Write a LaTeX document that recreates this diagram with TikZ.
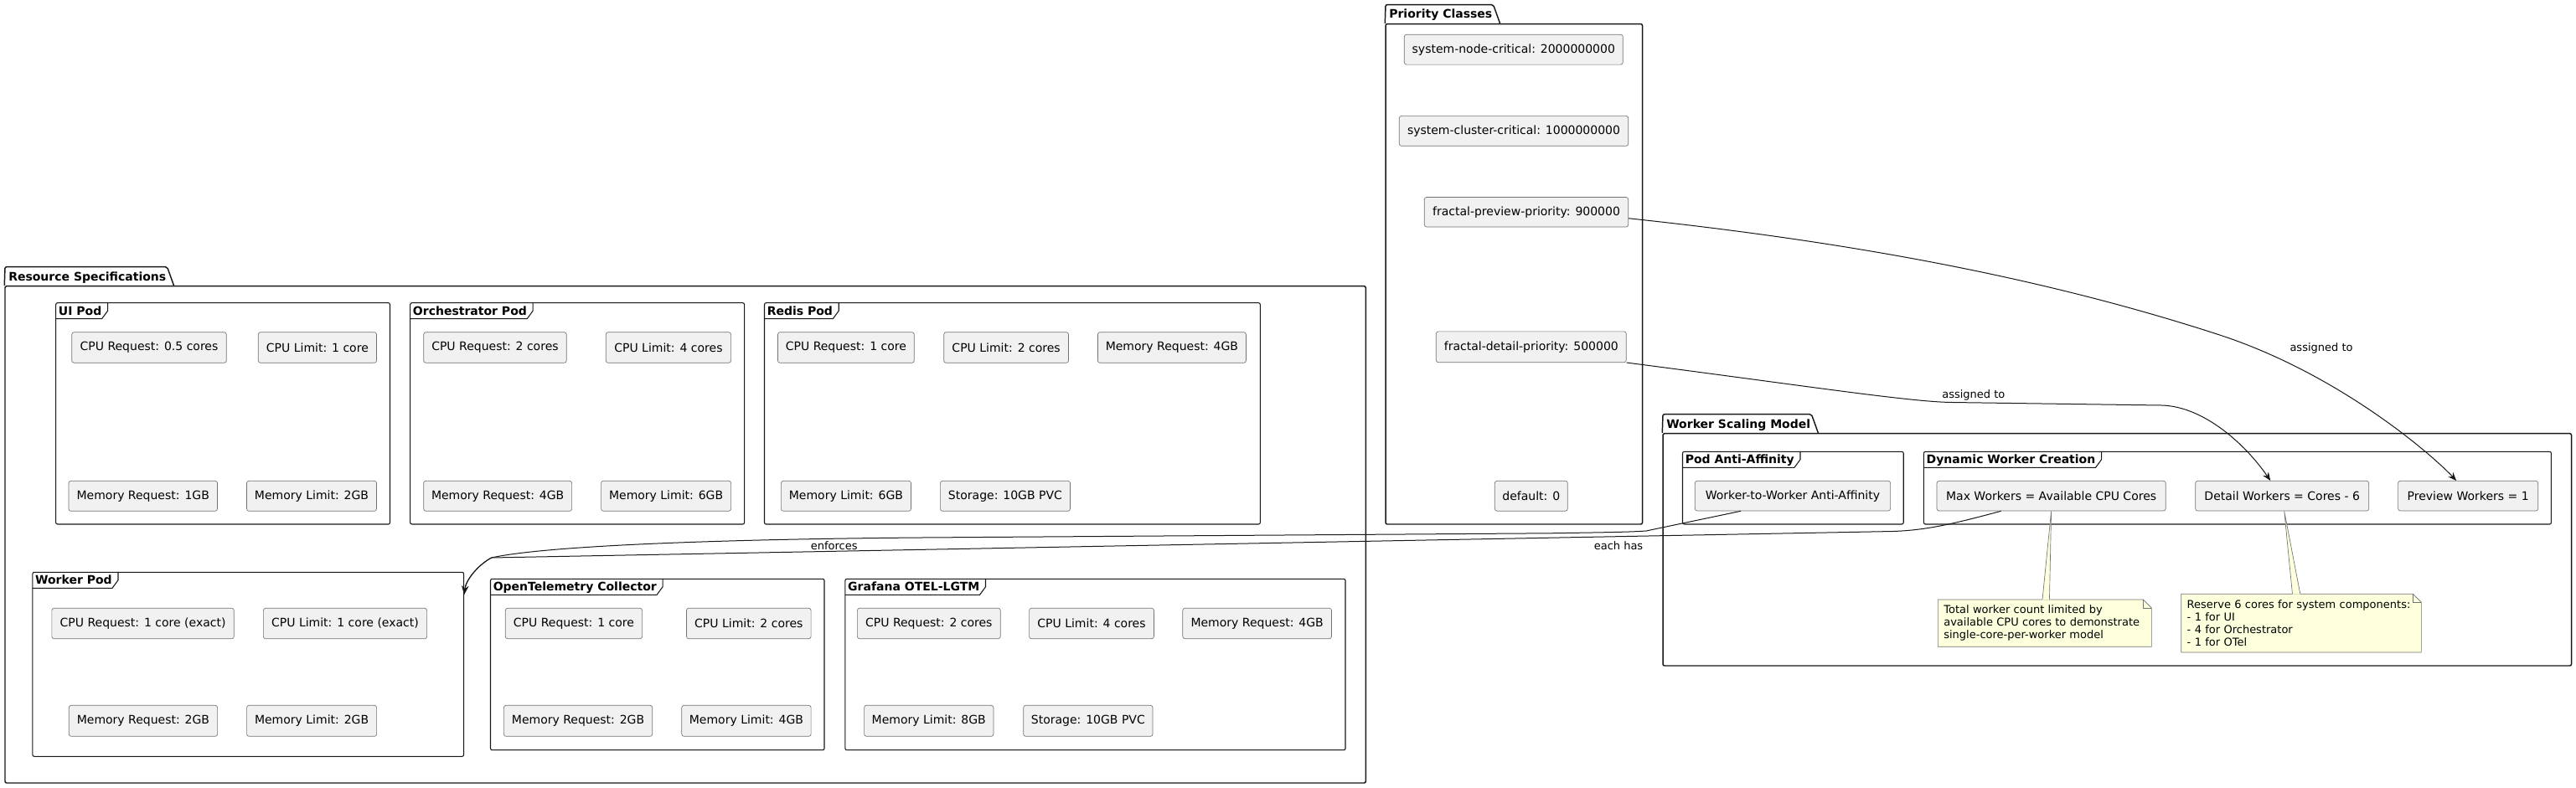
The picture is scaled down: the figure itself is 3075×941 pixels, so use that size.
\documentclass[tikz,border=0pt]{standalone}
\usepackage{fontspec}
\setmainfont{DejaVu Sans}
\usetikzlibrary{calc,arrows.meta}
\definecolor{boxfill}{HTML}{F1F1F1}
\definecolor{notefill}{HTML}{FEFFDD}
\definecolor{ink}{HTML}{181818}
\tikzset{
  box/.style={draw=black!55, line width=0.5pt, fill=boxfill, rounded corners=2pt, inner sep=0pt,
    font=\fontsize{10.5pt}{12.6pt}\selectfont, text=black},
  framebox/.style={draw=ink, line width=0.8pt, rounded corners=1.5pt, inner sep=0pt},
  frameline/.style={draw=ink, line width=0.8pt},
  ftitle/.style={inner sep=0pt, font=\fontsize{10.5pt}{12.6pt}\selectfont\bfseries},
  pkgbox/.style={draw=ink, line width=1.1pt, rounded corners=1.5pt, inner sep=0pt},
  pkgline/.style={draw=ink, line width=1.1pt, rounded corners=1.5pt},
  conn/.style={draw=ink, line width=0.75pt, -{Stealth[length=7.5pt, width=6pt, inset=2.5pt]}},
  elabel/.style={inner sep=0pt, font=\fontsize{9.75pt}{11.7pt}\selectfont},
  notebox/.style={draw=black!55, line width=0.5pt, fill=notefill},
  notetext/.style={inner xsep=5.25pt, inner ysep=0pt, align=left, font=\fontsize{9.75pt}{11.4pt}\selectfont},
}
\newcommand\mkbox[6]{\node[box, minimum width={(#4-#2)*0.75pt}, minimum height={(#5-#3)*0.75pt}] (#1) at ({(#2+#4)/2},{(#3+#5)/2}) {#6};}
\newcommand\mkfrm[6]{%
  \node[framebox, minimum width={(#4-#2)*0.75pt}, minimum height={(#5-#3)*0.75pt}] (#1) at ({(#2+#4)/2},{(#3+#5)/2}) {};
  \node[ftitle, anchor=base west] (#1t) at ({#2+3},{#3+14.3}) {#6};
  \coordinate (#1tb) at (#2,{#3+19});
  \draw[frameline] (#1tb) -- (#1t.east |- #1tb) -- ($(#1t.east |- #1.north)+(7,10)$) -- ($(#1t.east |- #1.north)+(7,0)$);
}
\newcommand\mkpkg[6]{%
  \node[pkgbox, minimum width={(#4-#2)*0.75pt}, minimum height={(#5-#3)*0.75pt}] (#1) at ({(#2+#4)/2},{(#3+#5)/2}) {};
  \node[ftitle, anchor=base west] (#1t) at ({#2+4},{#3-6.7}) {#6};
  \coordinate (#1tt) at (#2,{#3-23});
  \draw[pkgline] (#1.north west) -- (#1tt) -- ($(#1t.east |- #1tt)+(1,0)$) -- ($(#1t.east |- #1.north)+(9,0)$);
}
\newcommand\mknote[6]{%
  \draw[notebox] (#2,#3) -- ({#4-10},#3) -- (#4,{#3+10}) -- (#4,#5) -- (#2,#5) -- cycle;
  \draw[notebox, fill=none] ({#4-10},#3) -- ({#4-10},{#3+10}) -- (#4,{#3+10});
  \pgfmathsetmacro\notetw{(#4-#2-14)*0.75}
  \node[notetext, text width=\notetw pt, minimum height={(#5-#3)*0.75pt}] (#1) at ({(#2+#4)/2},{(#3+#5)/2}) {#6};
}
\begin{document}
\begin{tikzpicture}[x=0.75pt, y=-0.75pt]
\fill[white] (0,0) rectangle (3075,941);
\useasboundingbox (0,0) rectangle (3075,941);

% packages
\mkpkg{rs}{6}{341.7}{1630.3}{935}{Resource Specifications}
\mkpkg{pc}{1654}{28.6}{1960.5}{626}{Priority Classes}
\mkpkg{ws}{1985}{517.7}{3069.5}{795}{Worker Scaling Model}

% frames
\mkfrm{ui}{66.7}{361.7}{465.5}{626}{UI Pod}
\mkfrm{or}{489.7}{361.7}{888.6}{626}{Orchestrator Pod}
\mkfrm{rd}{912.5}{361.7}{1504.3}{626}{Redis Pod}
\mkfrm{wp}{38.9}{683.3}{553.6}{903.3}{Worker Pod}
\mkfrm{ot}{585.5}{691.3}{984}{895.7}{OpenTelemetry Collector}
\mkfrm{gf}{1008.9}{691.3}{1606}{895.7}{Grafana OTEL-LGTM}
\mkfrm{pa}{2008.5}{539.3}{2272.2}{626}{Pod Anti-Affinity}
\mkfrm{dw}{2296.4}{539.3}{3045.4}{626}{Dynamic Worker Creation}

% UI pod
\mkbox{uic}{85.7}{396.7}{270.3}{433.3}{CPU Request: 0.5 cores}
\mkbox{uil}{308.3}{396.7}{449.5}{433.3}{CPU Limit: 1 core}
\mkbox{uimr}{82}{574.3}{259.5}{610.3}{Memory Request: 1GB}
\mkbox{uiml}{294.5}{574.3}{449.5}{610.3}{Memory Limit: 2GB}
% Orchestrator
\mkbox{orc}{505.7}{396.7}{676.2}{433.3}{CPU Request: 2 cores}
\mkbox{orl}{723.3}{396.7}{872.6}{433.3}{CPU Limit: 4 cores}
\mkbox{ormr}{505.7}{574.3}{682.6}{610.3}{Memory Request: 4GB}
\mkbox{orml}{717.6}{574.3}{872.6}{610.3}{Memory Limit: 6GB}
% Redis
\mkbox{rdc}{928.5}{396.7}{1091.3}{433.3}{CPU Request: 1 core}
\mkbox{rdl}{1126.7}{396.7}{1275.5}{433.3}{CPU Limit: 2 cores}
\mkbox{rdmr}{1310.4}{396.7}{1487.4}{433.3}{Memory Request: 4GB}
\mkbox{rdml}{932.4}{574.3}{1087.5}{610.3}{Memory Limit: 6GB}
\mkbox{rds}{1122.4}{574.3}{1277.5}{610.3}{Storage: 10GB PVC}
% Worker
\mkbox{wpc}{61.9}{726.3}{279.3}{762.7}{CPU Request: 1 core (exact)}
\mkbox{wpl}{314.4}{726.3}{509.6}{762.7}{CPU Limit: 1 core (exact)}
\mkbox{wpmr}{82.3}{842.3}{259.6}{879.3}{Memory Request: 2GB}
\mkbox{wpml}{294.6}{842.3}{449.6}{879.3}{Memory Limit: 2GB}
% OTel
\mkbox{otc}{603.3}{726.3}{766.6}{762.7}{CPU Request: 1 core}
\mkbox{otl}{819.5}{726.3}{968.1}{762.7}{CPU Limit: 2 cores}
\mkbox{otmr}{601.4}{842.3}{778.7}{879.3}{Memory Request: 2GB}
\mkbox{otml}{813.8}{842.3}{968.1}{879.3}{Memory Limit: 4GB}
% Grafana
\mkbox{gfc}{1023.4}{726.3}{1194.2}{762.7}{CPU Request: 2 cores}
\mkbox{gfl}{1228.6}{726.3}{1377.4}{762.7}{CPU Limit: 4 cores}
\mkbox{gfmr}{1411.8}{726.3}{1589.5}{762.7}{Memory Request: 4GB}
\mkbox{gfml}{1031.6}{842.3}{1185.9}{879.3}{Memory Limit: 8GB}
\mkbox{gfs}{1221.7}{842.3}{1376}{879.3}{Storage: 10GB PVC}
% Priority classes
\mkbox{snc}{1676.3}{41.2}{1937.3}{77.1}{system-node-critical: 2000000000}
\mkbox{scc}{1670.3}{138.4}{1943.7}{174.3}{system-cluster-critical: 1000000000}
\mkbox{pp}{1700.3}{235.5}{1943.7}{271}{fractal-preview-priority: 900000}
\mkbox{pd}{1714.3}{395.9}{1941.3}{432.7}{fractal-detail-priority: 500000}
\mkbox{dflt}{1784.3}{574.3}{1871.3}{610.2}{default: 0}
% Worker scaling model
\mkbox{aff}{2023.3}{574.3}{2256.6}{610}{Worker-to-Worker Anti-Affinity}
\mkbox{mx}{2312}{574.3}{2585.2}{610}{Max Workers = Available CPU Cores}
\mkbox{dtw}{2620.7}{574.3}{2827.7}{610}{Detail Workers = Cores - 6}
\mkbox{pw}{2862.6}{574.3}{3029.7}{610}{Preview Workers = 1}

% notes
\mknote{n1}{2313.3}{716}{2568.3}{772.3}{Total worker count limited by\\available CPU cores to demonstrate\\single-core-per-worker model}
\mknote{n2}{2603.7}{709.3}{2890.3}{779}{Reserve 6 cores for system components:\\- 1 for UI\\- 4 for Orchestrator\\- 1 for OTel}
\fill[notefill] (mx.south) -- ($(n1.north west)+(125,0.6)$) -- ($(n1.north west)+(133.4,0.6)$) -- cycle;
\draw[draw=black!55, line width=0.5pt] ($(n1.north west)+(125,0)$) -- (mx.south) -- ($(n1.north west)+(133.4,0)$);
\fill[notefill] ($(dtw.south)+(2.5,0)$) -- ($(n2.north west)+(133,0.6)$) -- ($(n2.north west)+(142.3,0.6)$) -- cycle;
\draw[draw=black!55, line width=0.5pt] ($(n2.north west)+(133,0)$) -- ($(dtw.south)+(2.5,0)$) -- ($(n2.north west)+(142.3,0)$);

% connectors
\coordinate (j) at (586.7,666);
\draw[conn] ($(pp.east)+(0,7.5)$) .. controls (2180,286) and (2419.6,325) .. (2649.6,400)
  .. controls (2790,446) and (2900,540) .. ($(pw.north)+(-14,0)$);
\draw[conn] (pd.south east) .. controls (2150,460) and (2280,480) .. (2330,480.5) -- (2580,484)
  .. controls (2630,485) and (2680,530) .. ($(dtw.north)+(-14,0)$);
\draw[conn] ($(aff.south)+(-62,0)$) -- (1965,634) .. controls (1945,635.5) and (1900,636) .. (1850,636.8)
  -- (1100,642) .. controls (850,644) and (650,652) .. (j)
  .. controls (570,675) and (556,693) .. ($(wp.north east)+(0,27)$);
\draw[conn] ($(mx.south)+(-60,0)$) .. controls (2330,626) and (2300,633) .. (2260,634.5) -- (j)
  .. controls (570,675) and (556,693) .. ($(wp.north east)+(0,27)$);

% labels
\node[elabel] (l1) at (995.7,651.7) {enforces};
\node[elabel] (l2) at (1932,651.7) {each has};
\node[elabel] (l3) at (2771,416) {assigned to};
\node[elabel] (l4) at (2355.8,471.7) {assigned to};
\end{tikzpicture}
\end{document}
